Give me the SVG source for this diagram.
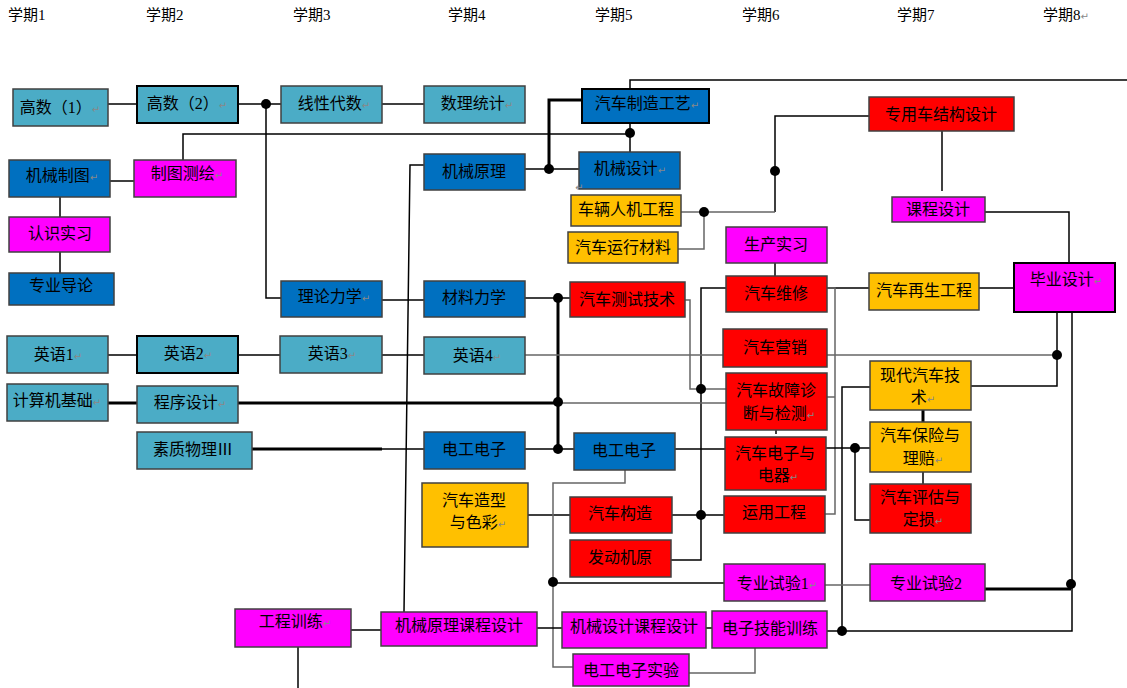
<svg xmlns="http://www.w3.org/2000/svg" width="1127" height="688" viewBox="0 0 1127 688">
<defs>
<style>
.lbl{font-family:"Liberation Serif","Noto Sans CJK SC",serif;font-size:15px;fill:#000}
.t{font-family:"Liberation Serif","Noto Sans CJK SC",sans-serif;font-size:16px;fill:#000;text-anchor:middle}
.pm{font-family:"DejaVu Sans",sans-serif;font-size:10px;fill:#888}
rect{stroke:#404040;stroke-width:1.5}
.teal{fill:#4BACC6}
.blue{fill:#0070C0}
.mag{fill:#FF00FF}
.red{fill:#FF0000}
.org{fill:#FFC000}
.bk{stroke:#000;stroke-width:2}
#connectors path{fill:none;stroke:#000;stroke-width:1.5}
#connectors .g{stroke:#666}
#connectors .th{stroke-width:3}
#connectors circle{fill:#000;stroke:none}
</style>
</defs>
<rect x="0" y="0" width="1127" height="688" fill="#fff" style="stroke:none"/>
<g id="semesters">
<text class="lbl" x="8" y="20">学期1</text>
<text class="lbl" x="146" y="20">学期2</text>
<text class="lbl" x="293" y="20">学期3</text>
<text class="lbl" x="448" y="20">学期4</text>
<text class="lbl" x="595" y="20">学期5</text>
<text class="lbl" x="742" y="20">学期6</text>
<text class="lbl" x="897" y="20">学期7</text>
<text class="lbl" x="1043" y="20">学期8<tspan class="pm">↵</tspan></text>
</g>
<g id="connectors">
<path d="M108,104H137"/>
<path d="M238,104H281M266,104V298H281"/>
<path d="M382,104H424"/>
<path d="M630,123V152M183,160V134H630"/>
<path d="M630,89V80H1127"/>
<path class="th" d="M582,100H549V169"/>
<path d="M525,169H579"/>
<path d="M424,165H410L404,612"/>
<path d="M110,181H134"/>
<path d="M60,197V217M60,252V273"/>
<path d="M382,300H424"/>
<path d="M525,298H570"/>
<path class="th" d="M558,298V449"/>
<path class="g" d="M685,300H690V389H726"/>
<path d="M726,288H701V560H671"/>
<path d="M528,515H570M672,515H724"/>
<path d="M775,263V276"/>
<path d="M827,288H869M979,288H1014"/>
<path class="g" d="M827,288H835V514H825M827,397H835"/>
<path d="M1014,116H775V212"/>
<path class="g" d="M775,212H681M678,249H704V212"/>
<path d="M942,131V191"/>
<path d="M985,212H1069V263"/>
<path d="M108,355H137M238,355H280M382,355H424"/>
<path class="g" d="M525,355H1057"/>
<path d="M1057,312V386H971"/>
<path class="th" d="M108,403H137M238,403H558"/>
<path class="g" d="M558,403H726"/>
<path class="th" d="M252,449H382"/>
<path d="M382,449H424M525,449H574M675,449H725"/>
<path d="M826,448H870M855,448V520H870"/>
<path d="M870,387H842V631M827,631H1072V312"/>
<path class="th" d="M923,410V422"/>
<path d="M923,472V484"/>
<path class="g" d="M625,470V483H553V667H573"/>
<path d="M553,583H724"/>
<path class="g" d="M825,585H870"/>
<path class="th" d="M985,589H1071"/>
<path class="g" d="M755,648V673H689"/>
<path d="M351,630H381M537,628H562M706,628H712"/>
<path d="M298,647V688"/>
<path d="M776,424V434"/>
<circle cx="266" cy="104" r="5"/>
<circle cx="630" cy="133" r="5"/>
<circle cx="549" cy="169" r="5"/>
<circle cx="558" cy="298" r="5"/>
<circle cx="558" cy="402" r="5"/>
<circle cx="558" cy="449" r="5"/>
<circle cx="701" cy="389" r="5"/>
<circle cx="701" cy="515" r="5"/>
<circle cx="775" cy="171" r="5"/>
<circle cx="704" cy="212" r="5"/>
<circle cx="1057" cy="355" r="5"/>
<circle cx="855" cy="448" r="5"/>
<circle cx="842" cy="631" r="5"/>
<circle cx="1071" cy="584" r="5"/>
<circle cx="553" cy="582" r="5"/>
</g>
<g id="n_gs1"><rect class="teal" x="13" y="89" width="95" height="37"/><text class="t" x="60" y="113">高数（1）<tspan class="pm">↵</tspan></text></g>
<g id="n_gs2"><rect class="teal bk" x="137" y="86" width="101" height="37"/><text class="t" x="187" y="109">高数（2）<tspan class="pm">↵</tspan></text></g>
<g id="n_xxds"><rect class="teal" x="281" y="86" width="101" height="37"/><text class="t" x="334" y="109">线性代数<tspan class="pm">↵</tspan></text></g>
<g id="n_sltj"><rect class="teal" x="424" y="86" width="101" height="37"/><text class="t" x="477" y="109">数理统计<tspan class="pm">↵</tspan></text></g>
<g id="n_qczz"><rect class="blue bk" x="582" y="89" width="127" height="34"/><text class="t" x="647" y="109">汽车制造工艺<tspan class="pm">↵</tspan></text></g>
<g id="n_jxzt"><rect class="blue" x="9" y="160" width="101" height="37"/><text class="t" x="62" y="181">机械制图<tspan class="pm">↵</tspan></text></g>
<g id="n_ztch"><rect class="mag" x="134" y="160" width="102" height="37"/><text class="t" x="187" y="179">制图测绘<tspan class="pm">↵</tspan></text></g>
<g id="n_jxyl"><rect class="blue" x="424" y="154" width="101" height="36"/><text class="t" x="474" y="177">机械原理</text></g>
<g id="n_jxsj"><rect class="blue" x="579" y="152" width="101" height="37"/><text class="t" x="630" y="174">机械设计<tspan class="pm">↵</tspan></text><text class="pm" x="575" y="191">↵</text></g>
<g id="n_rssx"><rect class="mag" x="9" y="217" width="101" height="35"/><text class="t" x="60" y="239">认识实习</text></g>
<g id="n_zydl"><rect class="blue" x="9" y="273" width="105" height="32"/><text class="t" x="61" y="291">专业导论</text></g>
<g id="n_clrj"><rect class="org" x="571" y="195" width="110" height="31"/><text class="t" x="626" y="215">车辆人机工程</text></g>
<g id="n_qcyxcl"><rect class="org" x="568" y="232" width="110" height="31"/><text class="t" x="623" y="253">汽车运行材料</text></g>
<g id="n_zyc"><rect class="red" x="869" y="97" width="145" height="34"/><text class="t" x="941" y="120">专用车结构设计</text></g>
<g id="n_kcsj"><rect class="mag" x="892" y="197" width="93" height="25"/><text class="t" x="938" y="215">课程设计</text></g>
<g id="n_scsx"><rect class="mag" x="726" y="227" width="101" height="36"/><text class="t" x="776" y="250">生产实习</text></g>
<g id="n_llxl"><rect class="blue" x="281" y="281" width="101" height="36"/><text class="t" x="334" y="302">理论力学<tspan class="pm">↵</tspan></text></g>
<g id="n_clxl"><rect class="blue" x="424" y="281" width="101" height="36"/><text class="t" x="474" y="303">材料力学</text></g>
<g id="n_cszj"><rect class="red" x="570" y="282" width="115" height="35"/><text class="t" x="627" y="305">汽车测试技术</text></g>
<g id="n_qcwx"><rect class="red" x="726" y="276" width="101" height="36"/><text class="t" x="776" y="299">汽车维修</text></g>
<g id="n_zsgc"><rect class="org" x="869" y="273" width="110" height="37"/><text class="t" x="924" y="296">汽车再生工程</text></g>
<g id="n_bysj"><rect class="mag bk" x="1014" y="263" width="101" height="49"/><text class="t" x="1066" y="285">毕业设计<tspan class="pm">↵</tspan></text></g>
<g id="n_yy1"><rect class="teal" x="7" y="336" width="101" height="37"/><text class="t" x="58" y="360">英语1<tspan class="pm">↵</tspan></text></g>
<g id="n_yy2"><rect class="teal bk" x="137" y="336" width="101" height="37"/><text class="t" x="188" y="359">英语2<tspan class="pm">↵</tspan></text></g>
<g id="n_yy3"><rect class="teal" x="280" y="336" width="102" height="37"/><text class="t" x="332" y="359">英语3<tspan class="pm">↵</tspan></text></g>
<g id="n_yy4"><rect class="teal" x="424" y="337" width="101" height="37"/><text class="t" x="477" y="361">英语4<tspan class="pm">↵</tspan></text></g>
<g id="n_qcyx"><rect class="red" x="723" y="329" width="104" height="38"/><text class="t" x="775" y="353">汽车营销</text></g>
<g id="n_jsj"><rect class="teal" x="7" y="384" width="101" height="37"/><text class="t" x="57" y="406">计算机基础<tspan class="pm">↵</tspan></text></g>
<g id="n_cxsj"><rect class="teal" x="137" y="386" width="101" height="37"/><text class="t" x="190" y="408">程序设计<tspan class="pm">↵</tspan></text></g>
<g id="n_gzzd"><rect class="red" x="726" y="373" width="101" height="57"/><text class="t" x="776" y="396">汽车故障诊</text><text class="t" x="779" y="419">断与检测<tspan class="pm">↵</tspan></text></g>
<g id="n_xdqc"><rect class="org" x="870" y="361" width="101" height="49"/><text class="t" x="920" y="381">现代汽车技</text><text class="t" x="923" y="403">术<tspan class="pm">↵</tspan></text></g>
<g id="n_szwl"><rect class="teal" x="137" y="432" width="115" height="37"/><text class="t" x="193" y="455">素质物理Ⅲ</text></g>
<g id="n_dgdz4"><rect class="blue" x="424" y="432" width="101" height="37"/><text class="t" x="474" y="455">电工电子</text></g>
<g id="n_dgdz5"><rect class="blue" x="574" y="433" width="101" height="37"/><text class="t" x="624" y="456">电工电子</text></g>
<g id="n_qcdz"><rect class="red" x="725" y="437" width="101" height="53"/><text class="t" x="775" y="459">汽车电子与</text><text class="t" x="778" y="481">电器<tspan class="pm">↵</tspan></text></g>
<g id="n_bxlp"><rect class="org" x="870" y="422" width="101" height="50"/><text class="t" x="920" y="441">汽车保险与</text><text class="t" x="923" y="464">理赔<tspan class="pm">↵</tspan></text></g>
<g id="n_zxss"><rect class="org" x="422" y="483" width="106" height="64"/><text class="t" x="474" y="506">汽车造型</text><text class="t" x="478" y="528">与色彩<tspan class="pm">↵</tspan></text></g>
<g id="n_qcgz"><rect class="red" x="570" y="497" width="102" height="36"/><text class="t" x="620" y="519">汽车构造</text></g>
<g id="n_yygc"><rect class="red" x="724" y="496" width="101" height="37"/><text class="t" x="774" y="518">运用工程</text></g>
<g id="n_pgds"><rect class="red" x="870" y="484" width="101" height="49"/><text class="t" x="920" y="503">汽车评估与</text><text class="t" x="923" y="525">定损<tspan class="pm">↵</tspan></text></g>
<g id="n_fdjy"><rect class="red" x="570" y="540" width="101" height="37"/><text class="t" x="620" y="563">发动机原</text></g>
<g id="n_zysy1"><rect class="mag" x="724" y="564" width="101" height="37"/><text class="t" x="777" y="589">专业试验1<tspan class="pm">↵</tspan></text></g>
<g id="n_zysy2"><rect class="mag" x="870" y="564" width="115" height="37"/><text class="t" x="926" y="589">专业试验2</text></g>
<g id="n_gcxl"><rect class="mag" x="235" y="609" width="116" height="38"/><text class="t" x="295" y="627">工程训练<tspan class="pm">↵</tspan></text></g>
<g id="n_jyk"><rect class="mag" x="381" y="612" width="156" height="34"/><text class="t" x="459" y="631">机械原理课程设计</text></g>
<g id="n_jsk"><rect class="mag" x="562" y="612" width="144" height="36"/><text class="t" x="634" y="632">机械设计课程设计</text></g>
<g id="n_dzjn"><rect class="mag" x="712" y="611" width="115" height="37"/><text class="t" x="770" y="634">电子技能训练</text></g>
<g id="n_dgsy"><rect class="mag" x="573" y="654" width="116" height="32"/><text class="t" x="631" y="676">电工电子实验</text></g>
</svg>
